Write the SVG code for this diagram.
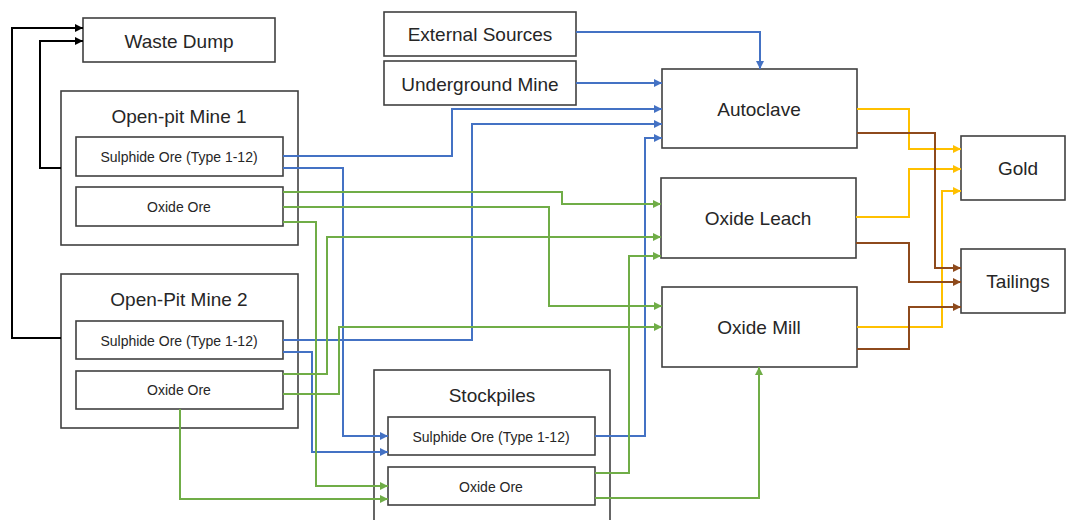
<svg xmlns="http://www.w3.org/2000/svg" width="1067" height="520" viewBox="0 0 1067 520">
<style>
.box{fill:#fff;stroke:#404040;stroke-width:1.6}
.t{font-family:"Liberation Sans","Open Sans",sans-serif;fill:#262626;text-anchor:middle;dominant-baseline:central}
.big{font-size:19px}
.sm{font-size:14px}
.c{fill:none;stroke-width:2;stroke-linejoin:miter}
.k{stroke:#000}
.b{stroke:#4472C4}
.g{stroke:#70AD47}
.y{stroke:#FFC000}
.r{stroke:#8E4A1C}
</style>
<defs>
<marker id="ak" viewBox="0 0 10 10" refX="10" refY="5" markerUnits="userSpaceOnUse" markerWidth="9" markerHeight="8" orient="auto"><path d="M0,0L10,5L0,10z" fill="#000"/></marker>
<marker id="ab" viewBox="0 0 10 10" refX="10" refY="5" markerUnits="userSpaceOnUse" markerWidth="9" markerHeight="8" orient="auto"><path d="M0,0L10,5L0,10z" fill="#4472C4"/></marker>
<marker id="ag" viewBox="0 0 10 10" refX="10" refY="5" markerUnits="userSpaceOnUse" markerWidth="9" markerHeight="8" orient="auto"><path d="M0,0L10,5L0,10z" fill="#70AD47"/></marker>
<marker id="ay" viewBox="0 0 10 10" refX="10" refY="5" markerUnits="userSpaceOnUse" markerWidth="9" markerHeight="8" orient="auto"><path d="M0,0L10,5L0,10z" fill="#FFC000"/></marker>
<marker id="ar" viewBox="0 0 10 10" refX="10" refY="5" markerUnits="userSpaceOnUse" markerWidth="9" markerHeight="8" orient="auto"><path d="M0,0L10,5L0,10z" fill="#8E4A1C"/></marker>
</defs>

<g id="waste-dump"><rect class="box" x="83" y="18" width="192" height="44"/><text class="t big" x="179" y="41">Waste Dump</text></g>

<g id="open-pit-mine-1"><rect class="box" x="61" y="91" width="237" height="154"/><text class="t big" x="179" y="116">Open-pit Mine 1</text></g>
<g id="opm1-sulphide"><rect class="box" x="76" y="137" width="207" height="39"/><text class="t sm" x="179" y="157">Sulphide Ore (Type 1-12)</text></g>
<g id="opm1-oxide"><rect class="box" x="76" y="187" width="207" height="39"/><text class="t sm" x="179" y="207">Oxide Ore</text></g>

<g id="open-pit-mine-2"><rect class="box" x="61" y="274" width="237" height="154"/><text class="t big" x="179" y="299">Open-Pit Mine 2</text></g>
<g id="opm2-sulphide"><rect class="box" x="76" y="321" width="207" height="38"/><text class="t sm" x="179" y="341">Sulphide Ore (Type 1-12)</text></g>
<g id="opm2-oxide"><rect class="box" x="76" y="371" width="207" height="38"/><text class="t sm" x="179" y="390">Oxide Ore</text></g>

<g id="external-sources"><rect class="box" x="384" y="12" width="192" height="44"/><text class="t big" x="480" y="34">External Sources</text></g>
<g id="underground-mine"><rect class="box" x="384" y="61" width="192" height="44"/><text class="t big" x="480" y="84">Underground Mine</text></g>

<g id="stockpiles"><rect class="box" x="374" y="370" width="236" height="160"/><text class="t big" x="492" y="395">Stockpiles</text></g>
<g id="sp-sulphide"><rect class="box" x="388" y="417" width="207" height="38"/><text class="t sm" x="491" y="437">Sulphide Ore (Type 1-12)</text></g>
<g id="sp-oxide"><rect class="box" x="388" y="467" width="207" height="38"/><text class="t sm" x="491" y="487">Oxide Ore</text></g>

<g id="autoclave"><rect class="box" x="662" y="69" width="195" height="79"/><text class="t big" x="759" y="109">Autoclave</text></g>
<g id="oxide-leach"><rect class="box" x="661" y="178" width="195" height="80"/><text class="t big" x="758" y="218">Oxide Leach</text></g>
<g id="oxide-mill"><rect class="box" x="662" y="287" width="195" height="80"/><text class="t big" x="759" y="327">Oxide Mill</text></g>

<g id="gold"><rect class="box" x="961" y="136" width="104" height="64"/><text class="t big" x="1018" y="168">Gold</text></g>
<g id="tailings"><rect class="box" x="961" y="249" width="104" height="64"/><text class="t big" x="1018" y="281">Tailings</text></g>

<g id="connectors">
<path class="c k" d="M61,338H12V28H83" marker-end="url(#ak)"/>
<path class="c k" d="M61,168H40V41H83" marker-end="url(#ak)"/>

<path class="c b" d="M576,32H760V69" marker-end="url(#ab)"/>
<path class="c b" d="M576,83H662" marker-end="url(#ab)"/>
<path class="c b" d="M283,156H452V109H662" marker-end="url(#ab)"/>
<path class="c b" d="M283,168H343V436H388" marker-end="url(#ab)"/>
<path class="c b" d="M283,340H472V124H662" marker-end="url(#ab)"/>
<path class="c b" d="M283,352H312V452H388" marker-end="url(#ab)"/>
<path class="c b" d="M595,436H645V138H662" marker-end="url(#ab)"/>

<path class="c g" d="M283,192H562V204H661" marker-end="url(#ag)"/>
<path class="c g" d="M283,207H549V306H662" marker-end="url(#ag)"/>
<path class="c g" d="M283,222H316V486H388" marker-end="url(#ag)"/>
<path class="c g" d="M283,374H327V237H661" marker-end="url(#ag)"/>
<path class="c g" d="M283,394H339V327H662" marker-end="url(#ag)"/>
<path class="c g" d="M180,409V499H388" marker-end="url(#ag)"/>
<path class="c g" d="M595,473H629V256H661" marker-end="url(#ag)"/>
<path class="c g" d="M595,498H759V367" marker-end="url(#ag)"/>

<path class="c y" d="M857,109H909V149H961" marker-end="url(#ay)"/>
<path class="c y" d="M856,217H909V169H961" marker-end="url(#ay)"/>
<path class="c y" d="M857,327H942V191H961" marker-end="url(#ay)"/>
<path class="c r" d="M857,133H935V268H961" marker-end="url(#ar)"/>
<path class="c r" d="M856,243H909V282H961" marker-end="url(#ar)"/>
<path class="c r" d="M857,349H909V307H961" marker-end="url(#ar)"/>
</g>
</svg>
